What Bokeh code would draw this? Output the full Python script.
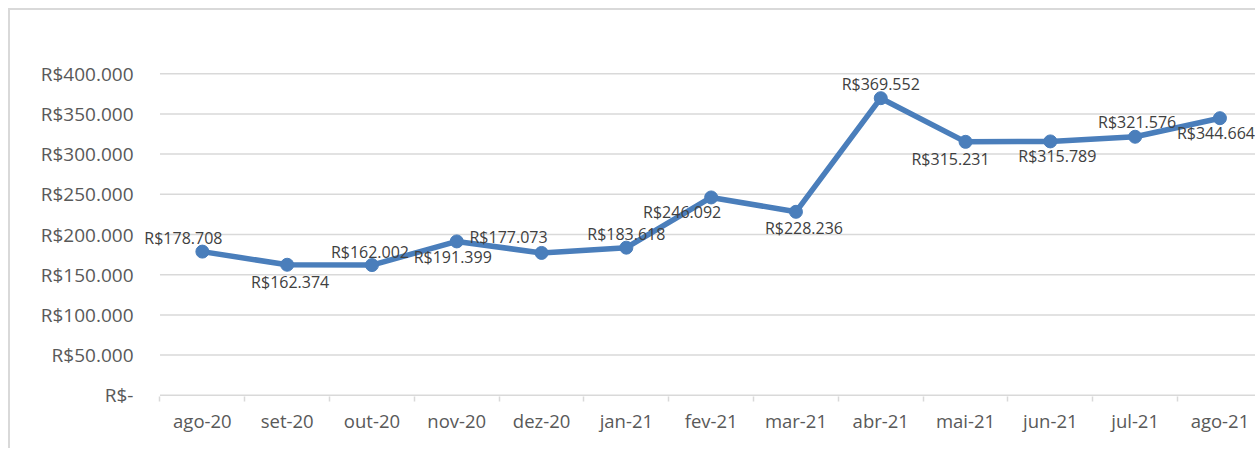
from bokeh.plotting import figure
from bokeh.models import ColumnDataSource, FixedTicker, Range1d
from bokeh.core.properties import value
from bokeh.embed import file_html
from bokeh.resources import INLINE

# ---- data ----
months = ["ago-20", "set-20", "out-20", "nov-20", "dez-20", "jan-21", "fev-21",
          "mar-21", "abr-21", "mai-21", "jun-21", "jul-21", "ago-21"]
values = [178708, 162374, 162002, 191399, 177073, 183618, 246092,
          228236, 369552, 315231, 315789, 321576, 344664]
value_labels = ["R$178.708", "R$162.374", "R$162.002", "R$191.399", "R$177.073",
                "R$183.618", "R$246.092", "R$228.236", "R$369.552", "R$315.231",
                "R$315.789", "R$321.576", "R$344.664"]
y_ticks = [0, 50000, 100000, 150000, 200000, 250000, 300000, 350000, 400000]
y_tick_labels = ["R$-", "R$50.000", "R$100.000", "R$150.000", "R$200.000",
                 "R$250.000", "R$300.000", "R$350.000", "R$400.000"]

# ---- label placement (screen pixel offsets) ----
label_dx = [-19, 3, -2, -4, -33, 0, -29, 8, 0, -15, 7, 2, -4]
label_dy = [-14, 17, -13, 16, -16, -14, 15, 16, -14, 17, 15, -15, 15]

FONT = "Open Sans"
LINE = "#4a7ebb"
GRID = "#d9d9d9"
TXT = "#595959"

n = len(months)
xs = list(range(n))
src = ColumnDataSource(dict(x=xs, y=values, lab=value_labels, dx=label_dx, dy=label_dy))
grid_src = ColumnDataSource(dict(x0=[-0.5] * len(y_ticks), x1=[n - 0.5] * len(y_ticks), y=y_ticks))

p = figure(width=1247, height=440, output_backend="svg", toolbar_location=None,
           x_range=Range1d(-0.706, 12.443), y_range=Range1d(-1500, 401500),
           min_border_left=132, min_border_right=0, min_border_top=62, min_border_bottom=54)
p.styles = {"margin-left": "8px", "margin-top": "8px",
            "border-left": "2px solid #d9d9d9", "border-top": "2px solid #d9d9d9"}
p.outline_line_color = None
p.background_fill_color = "white"
p.border_fill_color = "white"

# x axis (category boundary ticks as minor ticks)
xa = p.xaxis[0]
xa.ticker = FixedTicker(ticks=xs, minor_ticks=[i - 0.5 for i in range(n + 1)])
xa.major_label_overrides = {i: m for i, m in enumerate(months)}
xa.major_tick_out = 0
xa.major_tick_in = 0
xa.minor_tick_out = 5
xa.minor_tick_in = 0
xa.minor_tick_line_color = GRID
xa.minor_tick_line_width = 1.5
xa.axis_line_color = None
xa.major_label_text_font = FONT
xa.major_label_text_font_size = "18.5px"
xa.major_label_text_color = TXT
xa.major_label_standoff = 6

# y axis
ya = p.yaxis[0]
ya.ticker = FixedTicker(ticks=y_ticks)
ya.major_label_overrides = {t: l for t, l in zip(y_ticks, y_tick_labels)}
ya.axis_line_color = None
ya.major_tick_line_color = None
ya.minor_tick_line_color = None
ya.major_label_text_font = FONT
ya.major_label_text_font_size = "19px"
ya.major_label_text_color = TXT
ya.major_label_standoff = 3

p.xgrid.grid_line_color = None
p.ygrid.grid_line_color = None

# horizontal gridlines (the one at 0 doubles as the category axis line)
p.segment(x0="x0", x1="x1", y0="y", y1="y", source=grid_src,
          line_color=GRID, line_width=1.5)

p.line("x", "y", source=src, line_color=LINE, line_width=5.5, line_join="round")
p.scatter("x", "y", source=src, size=13, fill_color=LINE, line_color=LINE)
p.text("x", "y", text="lab", source=src, x_offset="dx", y_offset="dy",
       text_align="center", text_baseline="middle", text_font=value(FONT),
       text_font_size="16px", text_color="#404040")

open("out.html", "w").write(file_html(p, INLINE))
